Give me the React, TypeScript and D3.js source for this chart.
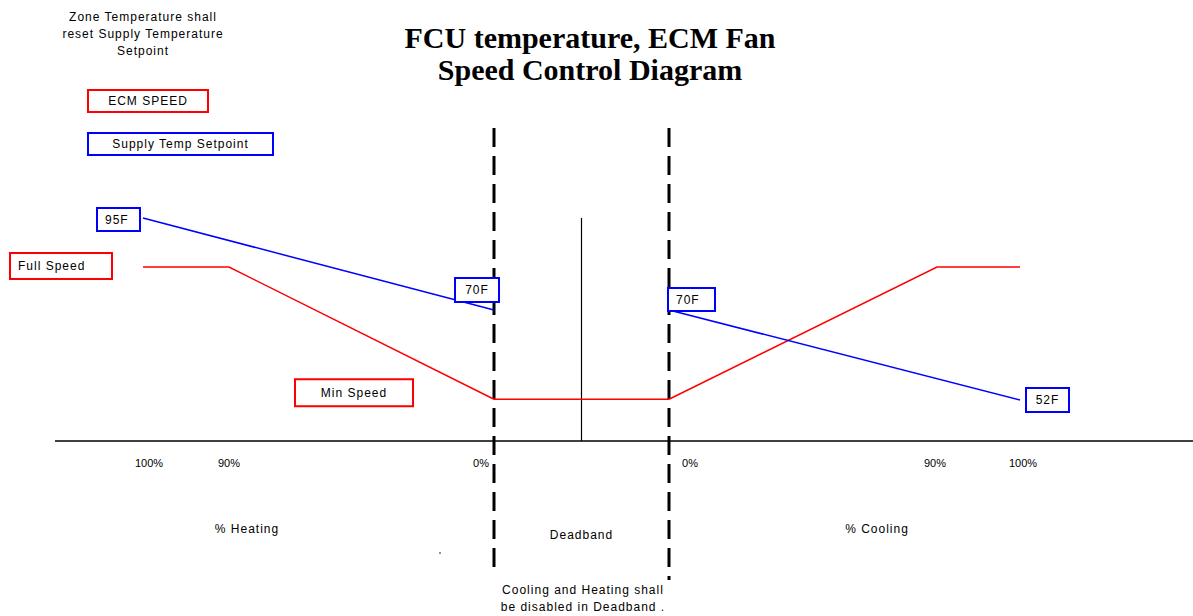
import * as d3 from "d3";
import React from "react";

// schematic values
const heatTicks = [100, 90, 0];
const coolTicks = [0, 90, 100];
const FULL_SPEED = 100;
const MIN_SPEED = 24;
// ECM fan speed (% of full) against % heating / % cooling
const ecmHeat = [
  { pct: 100, speed: FULL_SPEED },
  { pct: 90, speed: FULL_SPEED },
  { pct: 0, speed: MIN_SPEED },
];
const ecmCool = [
  { pct: 0, speed: MIN_SPEED },
  { pct: 90, speed: FULL_SPEED },
  { pct: 100, speed: FULL_SPEED },
];
// supply temperature setpoint (F)
const supplyHeat = [
  { pct: 100, temp: 95 },
  { pct: 0, temp: 70 },
];
const supplyCool = [
  { pct: 0, temp: 70 },
  { pct: 100, temp: 52 },
];
const noteLines = ["Zone Temperature shall", "reset Supply Temperature", "Setpoint"];
const deadbandNote = ["Cooling and Heating shall", "be disabled in Deadband ."];

const W = 1193;
const H = 616;
const AXIS_Y = 441;
const RED = "#ff0000";
const BLUE = "#0000ff";
const SMALL = { fontFamily: "Liberation Sans, Arial, sans-serif", fontSize: 12, letterSpacing: 1 };

const BoxLabel: React.FC<{ x: number; y: number; w: number; h: number; color: string; text: string; align?: "start" | "middle" }> = ({
  x,
  y,
  w,
  h,
  color,
  text,
  align = "middle",
}) => (
  <g>
    <rect x={x} y={y} width={w} height={h} fill="white" stroke={color} strokeWidth={2} />
    <text
      x={align === "middle" ? x + w / 2 : x + 8}
      y={y + h / 2 + 4}
      textAnchor={align}
      {...SMALL}
      fill="#000"
    >
      {text}
    </text>
  </g>
);

const App: React.FC = () => {
  // heating side runs right-to-left, cooling side left-to-right; gap between is the deadband
  const xHeat = d3.scaleLinear().domain([100, 90, 0]).range([143, 229, 494]);
  const xCool = d3.scaleLinear().domain([0, 90, 100]).range([669, 937, 1020]);
  const ySpeed = d3.scaleLinear().domain([0, FULL_SPEED]).range([AXIS_Y, 267]);
  const yTemp = d3.scaleLinear().domain([52, 70, 95]).range([400, 310, 218]);

  const dbLeft = xHeat(0);
  const dbRight = xCool(0);
  const dbMid = (dbLeft + dbRight) / 2;

  const speedLineHeat = d3
    .line<{ pct: number; speed: number }>()
    .x((d) => xHeat(d.pct))
    .y((d) => ySpeed(d.speed));
  const speedLineCool = d3
    .line<{ pct: number; speed: number }>()
    .x((d) => xCool(d.pct))
    .y((d) => ySpeed(d.speed));
  const tempLineHeat = d3
    .line<{ pct: number; temp: number }>()
    .x((d) => xHeat(d.pct))
    .y((d) => yTemp(d.temp));
  const tempLineCool = d3
    .line<{ pct: number; temp: number }>()
    .x((d) => xCool(d.pct))
    .y((d) => yTemp(d.temp));

  const t95 = supplyHeat[0];
  const t70h = supplyHeat[1];
  const t70c = supplyCool[0];
  const t52 = supplyCool[1];

  return (
    <svg width={W} height={H} style={{ position: "absolute", left: 0, top: 0, background: "white" }}>
      {/* title */}
      <text x={590} y={48} textAnchor="middle" fontFamily="Liberation Serif, Times New Roman, serif" fontWeight="bold" fontSize={30}>
        FCU temperature, ECM Fan
      </text>
      <text x={590} y={80} textAnchor="middle" fontFamily="Liberation Serif, Times New Roman, serif" fontWeight="bold" fontSize={30}>
        Speed Control Diagram
      </text>

      {/* note top-left */}
      {noteLines.map((l, i) => (
        <text key={l} x={143} y={21 + i * 17} textAnchor="middle" {...SMALL}>
          {l}
        </text>
      ))}

      {/* legend */}
      <BoxLabel x={88} y={90} w={120} h={22} color={RED} text="ECM SPEED" />
      <BoxLabel x={88} y={133} w={185} h={22} color={BLUE} text="Supply Temp Setpoint" />

      {/* axis */}
      <line x1={55} x2={W} y1={AXIS_Y} y2={AXIS_Y} stroke="#000" strokeWidth={1.6} />

      {/* deadband boundaries */}
      <line x1={dbLeft} x2={dbLeft} y1={128} y2={567} stroke="#000" strokeWidth={3} strokeDasharray="19 9" />
      <line x1={dbRight} x2={dbRight} y1={128} y2={580} stroke="#000" strokeWidth={3} strokeDasharray="19 9" />
      <line x1={dbMid} x2={dbMid} y1={218} y2={AXIS_Y} stroke="#000" strokeWidth={1.2} />

      {/* ECM speed */}
      <path d={speedLineHeat(ecmHeat) ?? ""} fill="none" stroke={RED} strokeWidth={1.5} />
      <line x1={dbLeft} x2={dbRight} y1={ySpeed(MIN_SPEED)} y2={ySpeed(MIN_SPEED)} stroke={RED} strokeWidth={1.5} />
      <path d={speedLineCool(ecmCool) ?? ""} fill="none" stroke={RED} strokeWidth={1.5} />

      {/* supply temp setpoint */}
      <path d={tempLineHeat(supplyHeat) ?? ""} fill="none" stroke={BLUE} strokeWidth={1.5} />
      <path d={tempLineCool(supplyCool) ?? ""} fill="none" stroke={BLUE} strokeWidth={1.5} />

      <BoxLabel x={xHeat(t95.pct) - 46} y={yTemp(t95.temp) - 10} w={43} h={23} color={BLUE} text={`${t95.temp}F`} align="start" />
      <BoxLabel x={xHeat(t70h.pct) - 39} y={yTemp(t70h.temp) - 32} w={44} h={24} color={BLUE} text={`${t70h.temp}F`} />
      <BoxLabel x={xCool(t70c.pct) - 1} y={yTemp(t70c.temp) - 22} w={47} h={23} color={BLUE} text={`${t70c.temp}F`} align="start" />
      <BoxLabel x={xCool(t52.pct) + 6} y={yTemp(t52.temp) - 12} w={43} h={24} color={BLUE} text={`${t52.temp}F`} />

      <BoxLabel x={10} y={ySpeed(FULL_SPEED) - 14} w={102} h={26} color={RED} text="Full Speed" align="start" />
      <BoxLabel x={295} y={ySpeed(MIN_SPEED) - 20} w={118} h={27} color={RED} text="Min Speed" />

      {/* tick labels */}
      {heatTicks.map((t) => (
        <text
          key={`h${t}`}
          x={t === 0 ? xHeat(t) - 5 : xHeat(t) + (t === 100 ? 6 : 0)}
          y={467}
          textAnchor={t === 0 ? "end" : "middle"}
          {...SMALL}
          fontSize={11}
          letterSpacing={0}
        >
          {t}%
        </text>
      ))}
      {coolTicks.map((t) => (
        <text
          key={`c${t}`}
          x={t === 0 ? xCool(t) + 13 : xCool(t) + (t === 90 ? -2 : 3)}
          y={467}
          textAnchor={t === 0 ? "start" : "middle"}
          {...SMALL}
          fontSize={11}
          letterSpacing={0}
        >
          {t}%
        </text>
      ))}

      {/* region labels */}
      <text x={247} y={533} textAnchor="middle" {...SMALL}>
        % Heating
      </text>
      <text x={dbMid} y={539} textAnchor="middle" {...SMALL}>
        Deadband
      </text>
      <text x={877} y={533} textAnchor="middle" {...SMALL}>
        % Cooling
      </text>
      {deadbandNote.map((l, i) => (
        <text key={l} x={583} y={594 + i * 17} textAnchor="middle" {...SMALL}>
          {l}
        </text>
      ))}
      <circle cx={440} cy={553} r={0.8} fill="#000" />
    </svg>
  );
};

export default App;
